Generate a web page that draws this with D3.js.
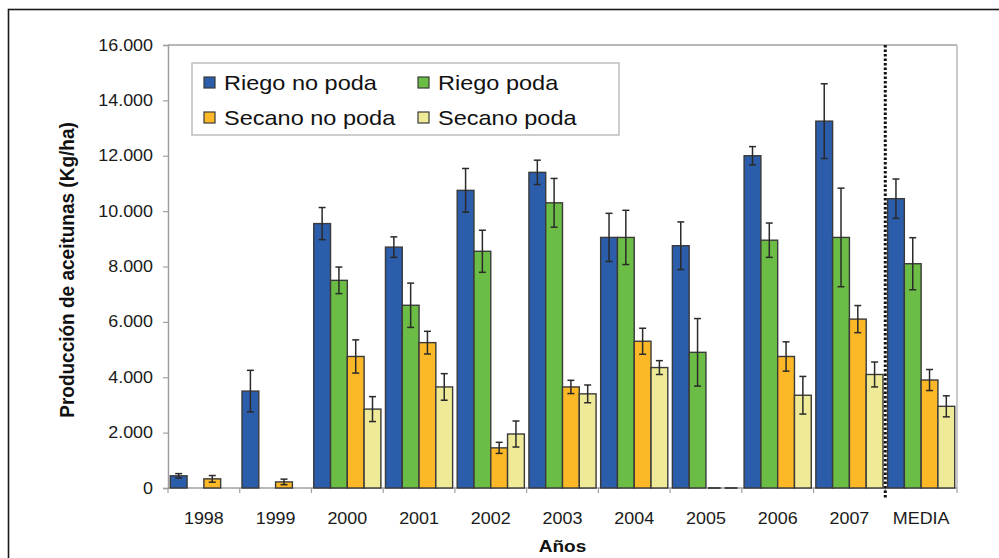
<!DOCTYPE html>
<html>
<head>
<meta charset="utf-8">
<script src="https://cdn.jsdelivr.net/npm/d3@7"></script>
<style>
  html, body { margin: 0; padding: 0; background: #fff; }
  svg { display: block; font-family: "Liberation Sans", Arial, sans-serif; }
</style>
</head>
<body>
<svg id="chart" width="999" height="558"></svg>
<script>
// ---- Data ----
const categories = ["1998", "1999", "2000", "2001", "2002", "2003", "2004", "2005", "2006", "2007", "MEDIA"];
const seriesNames = ["Riego no poda", "Riego poda", "Secano no poda", "Secano poda"];
const seriesColors = ["#2C5DAA", "#6BBD45", "#FDB827", "#EEEA98"];

const riegoNoPoda     = [440, 3500, 9550, 8700, 10750, 11400, 9050, 8750, 12000, 13250, 10450];
const riegoNoPodaErr  = [80, 750, 580, 370, 790, 440, 870, 860, 330, 1350, 710];
const riegoPoda       = [null, null, 7500, 6600, 8550, 10300, 9050, 4900, 8950, 9050, 8100];
const riegoPodaErr    = [null, null, 480, 800, 760, 880, 980, 1220, 620, 1780, 940];
const secanoNoPoda    = [330, 220, 4750, 5250, 1450, 3650, 5300, 0, 4750, 6100, 3900];
const secanoNoPodaErr = [120, 100, 600, 410, 200, 240, 470, 0, 530, 490, 380];
const secanoPoda      = [null, null, 2850, 3650, 1950, 3400, 4350, 0, 3350, 4100, 2950];
const secanoPodaErr   = [null, null, 450, 480, 470, 320, 250, 0, 680, 450, 380];

const yTicks = [0, 2000, 4000, 6000, 8000, 10000, 12000, 14000, 16000];
const yTickLabels = ["0", "2.000", "4.000", "6.000", "8.000", "10.000", "12.000", "14.000", "16.000"];

const seriesValues = [riegoNoPoda, riegoPoda, secanoNoPoda, secanoPoda];
const seriesErrors = [riegoNoPodaErr, riegoPodaErr, secanoNoPodaErr, secanoPodaErr];

(function draw() {
  const svg = d3.select("#chart");
  const mLeft = 168, mRight = 957, mTop = 45, mBottom = 488;
  const STRETCH = 1.12;

  // outer frame
  svg.append("rect")
    .attr("x", 8.5).attr("y", 9.5).attr("width", 1100).attr("height", 700)
    .attr("fill", "none").attr("stroke", "#1a1a1a").attr("stroke-width", 1.6);

  const x0 = d3.scaleBand().domain(categories).range([mLeft, mRight]).paddingInner(0).paddingOuter(0);
  const x1 = d3.scaleBand().domain(d3.range(4)).range([0, x0.bandwidth()]).paddingOuter(0.136).paddingInner(0);
  const y = d3.scaleLinear().domain([0, 16000]).range([mBottom, mTop]);

  // plot area border (top & right)
  svg.append("line").attr("x1", mLeft).attr("x2", mRight).attr("y1", mTop).attr("y2", mTop)
    .attr("stroke", "#b8b8b8").attr("stroke-width", 2);
  svg.append("line").attr("x1", mRight).attr("x2", mRight).attr("y1", mTop).attr("y2", mBottom)
    .attr("stroke", "#b8b8b8").attr("stroke-width", 1.5);

  // Y axis
  const yAxis = d3.axisLeft(y).tickValues(yTicks)
    .tickFormat((d, i) => yTickLabels[i]).tickSize(5).tickPadding(10);
  const gy = svg.append("g").attr("transform", `translate(${mLeft},0)`).call(yAxis);
  gy.select(".domain").attr("stroke", "#a0a0a0").attr("stroke-width", 1.5);
  gy.selectAll(".tick line").attr("stroke", "#a0a0a0").attr("stroke-width", 1.2);
  gy.selectAll(".tick text")
    .attr("font-size", 16).attr("fill", "#1a1a1a")
    .each(function() {
      const t = d3.select(this);
      const xx = +t.attr("x");
      t.attr("x", null).attr("transform", `translate(${xx},0) scale(${STRETCH},1)`);
    });

  // X axis (bottom) with ticks at category boundaries
  svg.append("line").attr("x1", mLeft).attr("x2", mRight).attr("y1", mBottom).attr("y2", mBottom)
    .attr("stroke", "#a0a0a0").attr("stroke-width", 1.5);
  const boundaries = categories.map(c => x0(c)).concat([mRight]);
  svg.append("g").selectAll("line").data(boundaries).join("line")
    .attr("x1", d => d).attr("x2", d => d).attr("y1", mBottom).attr("y2", mBottom + 5)
    .attr("stroke", "#a0a0a0").attr("stroke-width", 1.2);
  svg.append("g").selectAll("text").data(categories).join("text")
    .attr("transform", d => `translate(${x0(d) + x0.bandwidth() / 2},${mBottom + 36}) scale(${STRETCH},1)`)
    .attr("text-anchor", "middle").attr("font-size", 16).attr("fill", "#1a1a1a")
    .text(d => d);

  // Bars
  const barData = [];
  categories.forEach((c, ci) => {
    seriesValues.forEach((vals, si) => {
      if (vals[ci] !== null) barData.push({ c, si, v: vals[ci], e: seriesErrors[si][ci] });
    });
  });

  svg.append("g").selectAll("rect").data(barData.filter(d => d.v > 0)).join("rect")
    .attr("x", d => x0(d.c) + x1(d.si))
    .attr("y", d => y(d.v))
    .attr("width", x1.bandwidth())
    .attr("height", d => y(0) - y(d.v))
    .attr("fill", d => seriesColors[d.si])
    .attr("stroke", "#3a3a3a").attr("stroke-width", 1.4);

  // zero-valued bars: drawn as a short dash on the baseline
  svg.append("g").selectAll("line").data(barData.filter(d => d.v === 0)).join("line")
    .attr("x1", d => x0(d.c) + x1(d.si) + 2)
    .attr("x2", d => x0(d.c) + x1(d.si) + x1.bandwidth() - 2)
    .attr("y1", y(0)).attr("y2", y(0))
    .attr("stroke", "#444").attr("stroke-width", 2);

  // Error bars
  const errData = barData.filter(d => d.e > 0);
  const cx = d => x0(d.c) + x1(d.si) + x1.bandwidth() / 2;
  const eg = svg.append("g").attr("stroke", "#2a2a2a").attr("stroke-width", 1.5);
  eg.selectAll("line.v").data(errData).join("line").attr("class", "v")
    .attr("x1", cx).attr("x2", cx)
    .attr("y1", d => y(d.v + d.e)).attr("y2", d => y(Math.max(0, d.v - d.e)));
  eg.selectAll("line.t").data(errData).join("line").attr("class", "t")
    .attr("x1", d => cx(d) - 3.5).attr("x2", d => cx(d) + 3.5)
    .attr("y1", d => y(d.v + d.e)).attr("y2", d => y(d.v + d.e));
  eg.selectAll("line.b").data(errData).join("line").attr("class", "b")
    .attr("x1", d => cx(d) - 3.5).attr("x2", d => cx(d) + 3.5)
    .attr("y1", d => y(Math.max(0, d.v - d.e))).attr("y2", d => y(Math.max(0, d.v - d.e)));

  // Dotted separator before MEDIA
  svg.append("line")
    .attr("x1", x0("MEDIA")).attr("x2", x0("MEDIA"))
    .attr("y1", mTop).attr("y2", mBottom + 10)
    .attr("stroke", "#111").attr("stroke-width", 3).attr("stroke-dasharray", "2.5,2");

  // Legend
  const lg = svg.append("g");
  lg.append("rect").attr("x", 192).attr("y", 63).attr("width", 427).attr("height", 72)
    .attr("fill", "#fff").attr("stroke", "#bdbdbd").attr("stroke-width", 1.5);
  const legPos = [[204, 83], [418, 83], [204, 118], [418, 118]];
  seriesNames.forEach((n, i) => {
    const [lx, ly] = legPos[i];
    lg.append("rect").attr("x", lx).attr("y", ly - 6).attr("width", 11).attr("height", 11)
      .attr("fill", seriesColors[i]).attr("stroke", "#3a3a3a").attr("stroke-width", 1.2);
    lg.append("text")
      .attr("transform", `translate(${lx + 20},${ly + 7}) scale(${STRETCH},1)`)
      .attr("font-size", 21).attr("fill", "#111").text(n);
  });

  // Axis titles
  svg.append("text")
    .attr("transform", `translate(${x0("2003") + x0.bandwidth() / 2},552) scale(${STRETCH},1)`)
    .attr("text-anchor", "middle").attr("font-size", 17).attr("font-weight", "bold").attr("fill", "#111")
    .text("Años");
  svg.append("text")
    .attr("transform", `translate(74,270) rotate(-90) scale(1,1.1)`)
    .attr("text-anchor", "middle").attr("font-size", 19).attr("font-weight", "bold").attr("fill", "#111")
    .text("Producción de aceitunas (Kg/ha)");
})();
</script>
</body>
</html>
